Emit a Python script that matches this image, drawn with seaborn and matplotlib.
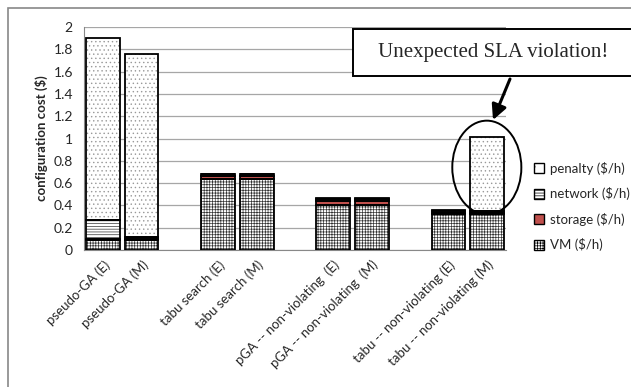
import numpy as np
import pandas as pd
import matplotlib
matplotlib.use('Agg')
import matplotlib.pyplot as plt
import seaborn as sns
from matplotlib.patches import Ellipse, Rectangle, Patch, FancyArrowPatch

# configuration cost per algorithm ('' = empty gap slot on the axis)
labels = ['pseudo-GA (E)', 'pseudo-GA (M)', '',
          'tabu search (E)', 'tabu search (M)', '',
          'pGA -- non-violating  (E)', 'pGA -- non-violating  (M)', '',
          'tabu -- non-violating (E)', 'tabu -- non-violating (M)']
vm      = [0.09, 0.09, 0, 0.64, 0.64, 0, 0.40, 0.40, 0, 0.32, 0.32]
storage = [0.01, 0.01, 0, 0.02, 0.02, 0, 0.04, 0.04, 0, 0.01, 0.01]
network = [0.17, 0.02, 0, 0.02, 0.02, 0, 0.02, 0.02, 0, 0.02, 0.02]
penalty = [1.63, 1.64, 0, 0.00, 0.00, 0, 0.01, 0.01, 0, 0.01, 0.66]

df = pd.DataFrame({'VM ($/h)': vm, 'storage ($/h)': storage,
                   'network ($/h)': network, 'penalty ($/h)': penalty}, index=labels)

sns.set_style('white')
plt.rcParams['font.family'] = ['Lato', 'DejaVu Sans']
plt.rcParams['hatch.linewidth'] = 0.5

fig = plt.figure(figsize=(6.31, 3.87), dpi=100)
ax = fig.add_axes([84/631, 1-250/387, (506-84)/631, (250-27)/387])

# facecolor, hatch, hatch colour
styles = {'VM ($/h)': ('white', '++++++', '#333333'),
          'storage ($/h)': ('#c0504d', None, 'black'),
          'network ($/h)': ('white', '------', '#333333'),
          'penalty ($/h)': ('white', '....', '#999999')}
x = np.arange(len(labels))
mask = np.array([l != '' for l in labels])
bottom = np.zeros(len(labels))
handles = []
for col in df.columns:
    fc, h, hc = styles[col]
    vals = df[col].values
    # hatched fill, then black outline on top
    ax.bar(x[mask], vals[mask], bottom=bottom[mask], width=0.88, color=fc,
           hatch=h, edgecolor=hc, linewidth=0, zorder=3)
    ax.bar(x[mask], vals[mask], bottom=bottom[mask], width=0.88, fill=False,
           edgecolor='black', linewidth=1.3, zorder=4)
    bottom += vals
    handles.append(Patch(facecolor=fc, hatch=h.replace('....', '.') if h else h,
                         edgecolor='black', label=col))

ax.set_xlim(-0.5, len(labels) - 0.5)
ax.set_ylim(0, 2)
ax.set_yticks(np.arange(0, 2.01, 0.2))
ax.set_yticklabels(['0', '0.2', '0.4', '0.6', '0.8', '1', '1.2', '1.4', '1.6', '1.8', '2'])
ax.yaxis.grid(True, color='#a6a6a6', linewidth=0.9, zorder=0)
ax.set_xticks(x)
ax.set_xticklabels(labels, rotation=45, ha='right', rotation_mode='anchor', fontsize=9.5)
ax.set_xticks(np.arange(-0.5, len(labels)), minor=True)
ax.tick_params(axis='x', which='major', length=0, pad=6)
ax.tick_params(axis='x', which='minor', length=5, color='#888888', width=0.9)
ax.tick_params(axis='y', length=0, labelsize=10, pad=8)
for s in ['top', 'right']:
    ax.spines[s].set_visible(False)
for s in ['left', 'bottom']:
    ax.spines[s].set_color('#888888')
ax.set_ylabel('configuration cost ($)', fontsize=9.5, fontweight='bold')

leg = fig.legend(handles=handles[::-1], loc='upper left', bbox_to_anchor=(522/631, 1-150/387),
                 frameon=False, fontsize=9.5, labelspacing=0.95, handlelength=0.8,
                 handleheight=0.8, handletextpad=0.4)

# circle around the unexpected penalty bar
ax.add_patch(Ellipse((10, 0.74), 1.8, 0.84, fill=False, edgecolor='black',
                     linewidth=1.4, clip_on=False, zorder=5))

# callout box
fig.patches.append(Rectangle((353/631, 1-76/387), 0.6, 47/387, transform=fig.transFigure,
                             facecolor='white', edgecolor='black', linewidth=1.4))
fig.text(493/631, 1-52/387, 'Unexpected SLA violation!', ha='center', va='center',
         fontsize=15, family='Liberation Serif')
fig.add_artist(FancyArrowPatch(
    (510/631, 1-79/387), (493/631, 1-120/387), transform=fig.transFigure,
    arrowstyle='-|>,head_length=9,head_width=4.5', color='black', linewidth=2.2,
    shrinkA=0, shrinkB=0))

# outer chart border
fig.patches.append(Rectangle((8/631, -0.1), 1.1, 1.1 - 8/387, transform=fig.transFigure,
                             fill=False, edgecolor='#888888', linewidth=1.2))

fig.savefig('out.png', dpi=100)
